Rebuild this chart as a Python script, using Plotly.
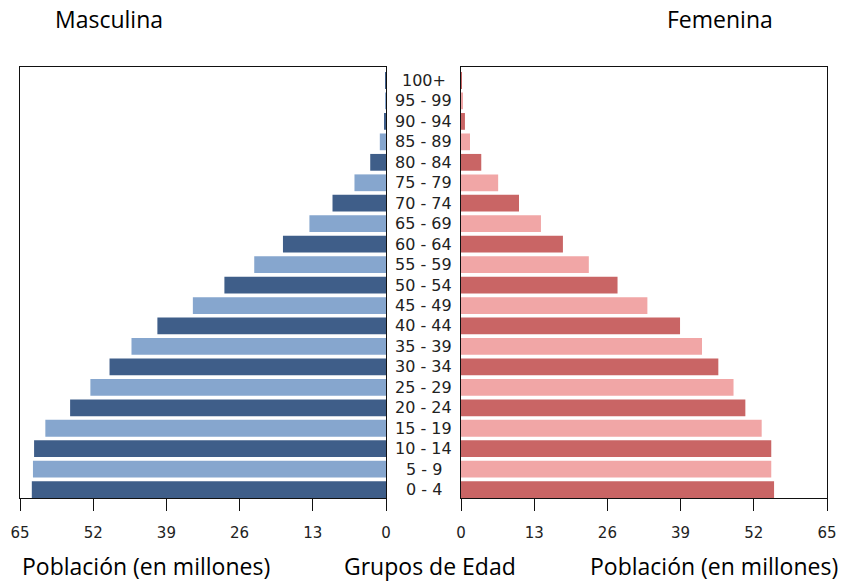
import plotly.graph_objects as go

age_groups = ["0 - 4", "5 - 9", "10 - 14", "15 - 19", "20 - 24", "25 - 29", "30 - 34",
              "35 - 39", "40 - 44", "45 - 49", "50 - 54", "55 - 59", "60 - 64", "65 - 69",
              "70 - 74", "75 - 79", "80 - 84", "85 - 89", "90 - 94", "95 - 99", "100+"]
male = [62.9, 62.7, 62.5, 60.5, 56.1, 52.5, 49.1, 45.2, 40.6, 34.3, 28.7, 23.4, 18.3,
        13.6, 9.5, 5.6, 2.8, 1.1, 0.3, 0.1, 0.05]
female = [55.6, 55.1, 55.1, 53.4, 50.5, 48.4, 45.7, 42.8, 38.9, 33.1, 27.8, 22.7, 18.1,
          14.2, 10.3, 6.6, 3.6, 1.6, 0.7, 0.3, 0.15]
x_ticks = [0, 13, 26, 39, 52, 65]

blue_dark, blue_light = "#3f5e89", "#86a6ce"
red_dark, red_light = "#c96565", "#f1a6a6"

pos = list(range(len(age_groups)))
male_colors = [blue_dark if i % 2 == 0 else blue_light for i in pos]
female_colors = [red_dark if i % 2 == 0 else red_light for i in pos]

W, H = 855, 585


def fx(px):
    return px / W


def fy(py):
    return 1 - py / H


fig = go.Figure()
fig.add_trace(go.Bar(x=male, y=pos, orientation="h", marker=dict(color=male_colors, line=dict(width=0)),
                     width=0.82, xaxis="x", yaxis="y", showlegend=False))
fig.add_trace(go.Bar(x=female, y=pos, orientation="h", marker=dict(color=female_colors, line=dict(width=0)),
                     width=0.82, xaxis="x2", yaxis="y2", showlegend=False))

yd = [fy(498), fy(67)]
yr = [-0.41, 20.66]
axis_common = dict(showline=True, linecolor="#111", linewidth=1.3, mirror=True,
                   showgrid=False, zeroline=False, automargin=False)
tick_common = dict(tickvals=x_ticks, ticks="outside", ticklen=12, tickwidth=1.2, tickcolor="#111",
                   ticklabelstandoff=9, tickfont=dict(family="DejaVu Sans", size=15, color="#222"))
fig.update_layout(
    template="none",
    width=W, height=H, margin=dict(l=0, r=0, t=0, b=0, pad=0, autoexpand=False),
    paper_bgcolor="white", plot_bgcolor="white",
    xaxis=dict(domain=[fx(20), fx(386)], range=[65, 0], anchor="y", **tick_common, **axis_common),
    xaxis2=dict(domain=[fx(461), fx(827)], range=[0, 65], anchor="y2", **tick_common, **axis_common),
    yaxis=dict(domain=yd, range=yr, showticklabels=False, ticks="", anchor="x", **axis_common),
    yaxis2=dict(domain=yd, range=yr, showticklabels=False, ticks="", anchor="x2", **axis_common),
)

for i, lab in zip(pos, age_groups):
    fig.add_annotation(x=fx(423.5), xref="paper", y=i, yref="y", text=lab, showarrow=False,
                       font=dict(family="DejaVu Sans", size=16, color="#222"), xanchor="center")

text_font = dict(family="Open Sans", size=23, color="black")
labels = [("Masculina", 109, 19), ("Femenina", 720, 19),
          ("Población (en millones)", 146, 566), ("Grupos de Edad", 430, 566),
          ("Población (en millones)", 714, 566)]
for txt, px, py in labels:
    fig.add_annotation(x=fx(px), y=fy(py), xref="paper", yref="paper", text=txt,
                       showarrow=False, font=text_font, xanchor="center", yanchor="middle")

fig.write_html("out.html", config={"displayModeBar": False},
               post_script="document.body.style.margin='0px';document.body.style.overflow='hidden';")
